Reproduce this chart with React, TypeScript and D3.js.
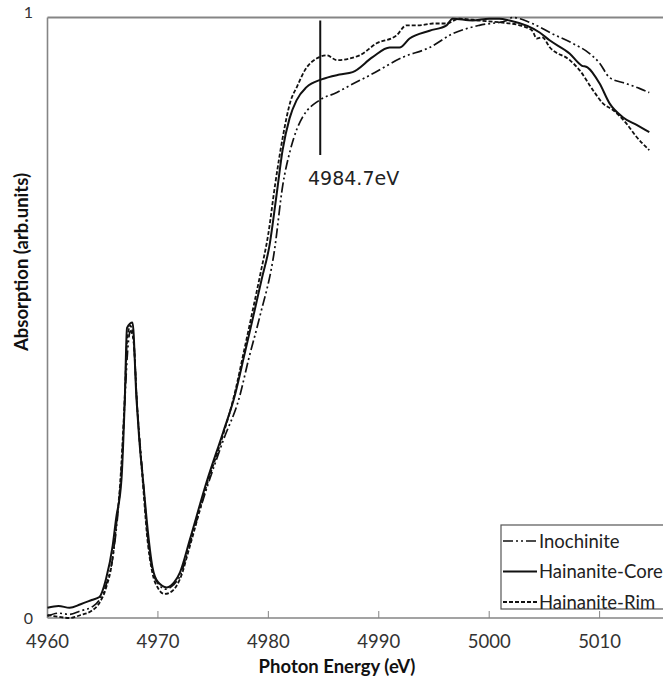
import React from "react";
import * as d3 from "d3";

// ---- data ----
const xTicks = [4960, 4970, 4980, 4990, 5000, 5010];
const yTickLabels = ["0", "1"];
const annotationEnergy = 4984.7;
const annotationLabel = "4984.7eV";

const coreE = [4960.0, 4961.0, 4962.0, 4963.0, 4964.0, 4964.7, 4965.3, 4965.9, 4966.2, 4966.7, 4967.0, 4967.2, 4967.7, 4968.06, 4968.3, 4968.7, 4969.0, 4969.5, 4970.0, 4970.8, 4971.5, 4972.0, 4972.9, 4974.4, 4975.9, 4976.94, 4977.84, 4978.57, 4979.38, 4980.11, 4980.74, 4981.29, 4981.92, 4982.55, 4983.46, 4984.82, 4986.45, 4987.63, 4989.44, 4990.98, 4991.88, 4992.79, 4994.6, 4996.14, 4996.68, 4998.5, 5000.0, 5000.9, 5001.85, 5004.57, 5005.47, 5007.28, 5008.37, 5008.9, 5010.0, 5010.9, 5012.1, 5013.35, 5014.5];
const coreV = [0.017, 0.02, 0.017, 0.023, 0.03, 0.035, 0.065, 0.12, 0.164, 0.231, 0.364, 0.483, 0.492, 0.364, 0.3, 0.22, 0.16, 0.085, 0.06, 0.051, 0.06, 0.076, 0.131, 0.226, 0.309, 0.369, 0.439, 0.497, 0.563, 0.621, 0.704, 0.779, 0.832, 0.862, 0.884, 0.897, 0.905, 0.909, 0.934, 0.95, 0.95, 0.965, 0.978, 0.987, 0.998, 0.995, 0.998, 0.998, 0.995, 0.975, 0.962, 0.94, 0.92, 0.917, 0.89, 0.857, 0.834, 0.821, 0.809];

const rimE = [4960.0, 4961.0, 4962.0, 4963.0, 4964.0, 4964.7, 4965.3, 4965.9, 4966.2, 4966.6, 4967.0, 4967.2, 4967.5, 4967.8, 4968.1, 4968.7, 4969.0, 4969.5, 4970.0, 4970.6, 4971.3, 4972.0, 4972.9, 4974.4, 4975.9, 4976.9, 4977.8, 4978.5, 4979.3, 4980.0, 4980.6, 4981.3, 4982.0, 4982.6, 4983.3, 4984.4, 4985.3, 4986.2, 4988.26, 4989.8, 4991.6, 4992.5, 4993.7, 4994.9, 4996.1, 4997.3, 4999.1, 5000.9, 5002.75, 5003.9, 5004.3, 5004.8, 5005.5, 5007.3, 5008.2, 5009.4, 5010.3, 5011.2, 5012.4, 5013.35, 5014.5];
const rimV = [0.005, 0.002, 0.0, 0.005, 0.012, 0.025, 0.05, 0.1, 0.15, 0.23, 0.37, 0.46, 0.487, 0.46, 0.36, 0.21, 0.14, 0.075, 0.05, 0.04, 0.045, 0.065, 0.12, 0.22, 0.305, 0.37, 0.445, 0.505, 0.575, 0.64, 0.72, 0.8, 0.86, 0.885, 0.912, 0.932, 0.937, 0.929, 0.937, 0.957, 0.97, 0.987, 0.987, 0.99, 0.99, 0.998, 0.995, 0.992, 0.987, 0.978, 0.965, 0.967, 0.95, 0.929, 0.912, 0.879, 0.857, 0.846, 0.824, 0.801, 0.779];

const inoE = [4960.0, 4961.0, 4962.0, 4963.0, 4964.0, 4964.7, 4965.3, 4965.9, 4966.3, 4966.7, 4967.0, 4967.3, 4967.5, 4967.8, 4968.1, 4968.7, 4969.0, 4969.5, 4970.0, 4970.7, 4971.4, 4972.0, 4972.9, 4974.4, 4975.9, 4977.4, 4978.2, 4979.2, 4980.56, 4981.3, 4982.0, 4982.6, 4983.1, 4984.6, 4986.2, 4987.1, 4989.2, 4992.2, 4994.6, 4996.7, 4999.1, 5001.6, 5002.1, 5003.9, 5005.7, 5007.55, 5009.1, 5010.0, 5010.9, 5012.4, 5013.6, 5014.5];
const inoV = [0.003, 0.008, 0.006, 0.012, 0.018, 0.03, 0.055, 0.1, 0.16, 0.25, 0.36, 0.455, 0.478, 0.46, 0.36, 0.22, 0.15, 0.08, 0.058, 0.048, 0.055, 0.07, 0.125, 0.215, 0.295, 0.369, 0.43, 0.5, 0.613, 0.72, 0.78, 0.815, 0.834, 0.862, 0.875, 0.884, 0.904, 0.934, 0.95, 0.973, 0.987, 0.995, 1.0, 0.99, 0.973, 0.957, 0.94, 0.924, 0.9, 0.89, 0.882, 0.875];

const seriesNames = ["Inochinite", "Hainanite-Core", "Hainanite-Rim"];

export default function App() {
  const W = 663, H = 676;
  const x = d3.scaleLinear().domain([4960, 5015.74]).range([47.5, 663]);
  const y = d3.scaleLinear().domain([0, 1]).range([618, 17.5]);
  const line = d3
    .line<[number, number]>()
    .x((d) => x(d[0]))
    .y((d) => y(d[1]))
    .curve(d3.curveMonotoneX);
  const zip = (e: number[], v: number[]) => e.map((ev, i) => [ev, v[i]] as [number, number]);

  const series = [
    { name: seriesNames[0], d: line(zip(inoE, inoV)), dash: "10,3,2,3,2,3", w: 1.7 },
    { name: seriesNames[1], d: line(zip(coreE, coreV)), dash: "", w: 2 },
    { name: seriesNames[2], d: line(zip(rimE, rimV)), dash: "4,2", w: 1.8 },
  ];

  const axisColor = "#858585";
  const font = "Lato, 'Open Sans', sans-serif";
  const ax = x(annotationEnergy);

  return (
    <svg
      width={W}
      height={H}
      style={{ position: "absolute", left: 0, top: 0, background: "#fff" }}
    >
      <rect x={0} y={0} width={W} height={H} fill="#fff" />
      {/* axes */}
      <line x1={47.5} x2={663} y1={17.5} y2={17.5} stroke={axisColor} strokeWidth={1.8} />
      <line x1={47.5} x2={47.5} y1={17.5} y2={618} stroke={axisColor} strokeWidth={1.6} />
      <line x1={47.5} x2={663} y1={618} y2={618} stroke={axisColor} strokeWidth={1.6} />
      {xTicks.slice(1).map((t) => (
        <line key={t} x1={x(t)} x2={x(t)} y1={618} y2={611} stroke={axisColor} strokeWidth={1} />
      ))}
      {xTicks.map((t) => (
        <text key={t} x={x(t)} y={648} textAnchor="middle" fontFamily={font} fontSize={18.5} fill="#333">
          {t}
        </text>
      ))}
      <text x={33} y={624} textAnchor="end" fontFamily={font} fontSize={16} fill="#333">
        {yTickLabels[0]}
      </text>
      <text x={33} y={18} textAnchor="end" fontFamily={font} fontSize={16} fill="#333">
        {yTickLabels[1]}
      </text>
      <text x={337} y={673} textAnchor="middle" fontFamily={font} fontWeight="bold" fontSize={18.5} fill="#111">
        Photon Energy (eV)
      </text>
      <text
        transform={`translate(28,262) rotate(-90)`}
        textAnchor="middle"
        fontFamily={font}
        fontWeight="bold"
        fontSize={18.5}
        fill="#111"
      >
        Absorption (arb.units)
      </text>

      {/* series */}
      {series.map((s) => (
        <path
          key={s.name}
          d={s.d || ""}
          fill="none"
          stroke="#111"
          strokeWidth={s.w}
          strokeDasharray={s.dash || undefined}
          strokeLinejoin="round"
        />
      ))}

      {/* annotation */}
      <line x1={ax} x2={ax} y1={y(0.995)} y2={155} stroke="#111" strokeWidth={2} />
      <text x={308} y={185} fontFamily="'DejaVu Sans', sans-serif" fontSize={19} fill="#222">
        {annotationLabel}
      </text>

      {/* legend */}
      <rect x={501} y={525} width={170} height={84} fill="#fff" stroke="#555" strokeWidth={1.2} />
      {series.map((s, i) => {
        const cy = 541 + i * 30.5;
        return (
          <g key={s.name}>
            <line
              x1={503}
              x2={537}
              y1={cy}
              y2={cy}
              stroke="#111"
              strokeWidth={s.w}
              strokeDasharray={s.dash || undefined}
            />
            <text x={539} y={cy + 6.5} fontFamily={font} fontSize={18.5} fill="#222">
              {s.name}
            </text>
          </g>
        );
      })}
    </svg>
  );
}
